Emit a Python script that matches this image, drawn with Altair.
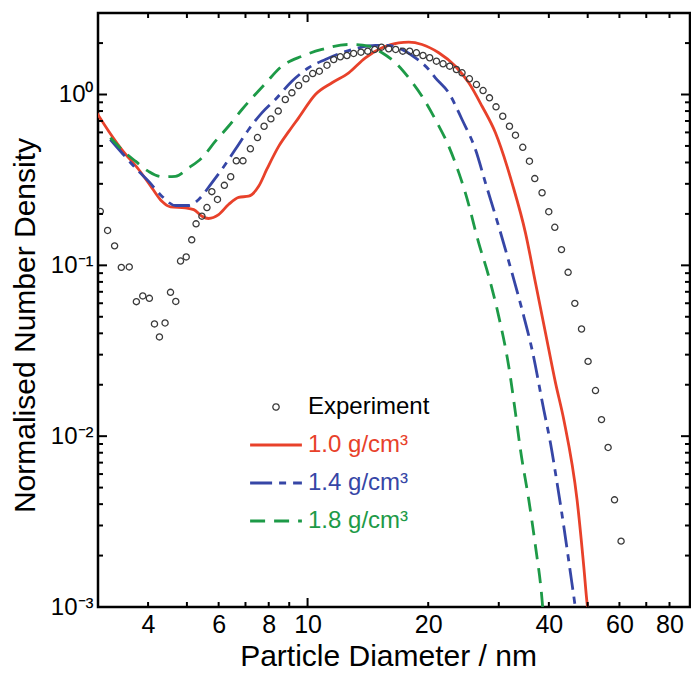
import json
import altair as alt
import pandas as pd

FONT = "Liberation Sans"

# ---------------- data ----------------
exp_d = [3.04, 3.17, 3.30, 3.43, 3.59, 3.74, 3.88, 4.03, 4.15, 4.27, 4.41, 4.55, 4.69, 4.82, 4.98,
         5.14, 5.27, 5.45, 5.61, 5.77, 5.96, 6.20, 6.43, 6.64, 6.90, 7.20, 7.50, 7.79, 8.10, 8.45,
         8.80, 9.14, 9.50, 9.91, 10.30, 10.70, 11.18, 11.62, 12.07, 12.54, 13.03, 13.59, 14.13, 14.71,
         15.29, 15.94, 16.59, 17.28, 17.98, 18.69, 19.41, 20.17, 20.97, 21.78, 22.63, 23.52, 24.29,
         25.34, 26.39, 27.41, 28.44, 29.53, 30.69, 31.90, 33.02, 34.43, 35.78, 36.89, 38.47, 39.98,
         41.39, 43.01, 44.68, 46.44, 48.26, 50.11, 52.29, 54.13, 56.22, 58.33, 60.57]
exp_v = [0.207, 0.160, 0.130, 0.0973, 0.0979, 0.0613, 0.0662, 0.0641, 0.0454, 0.0381, 0.0460, 0.0695,
         0.0615, 0.106, 0.112, 0.141, 0.175, 0.194, 0.218, 0.270, 0.243, 0.294, 0.330, 0.409, 0.409,
         0.481, 0.560, 0.652, 0.720, 0.80, 0.935, 1.023, 1.129, 1.236, 1.327, 1.369, 1.484, 1.603,
         1.663, 1.692, 1.739, 1.769, 1.793, 1.835, 1.893, 1.853, 1.835, 1.793, 1.793, 1.755, 1.692,
         1.641, 1.567, 1.513, 1.465, 1.401, 1.340, 1.236, 1.144, 1.055, 0.956, 0.847, 0.746, 0.652,
         0.578, 0.491, 0.407, 0.322, 0.266, 0.206, 0.167, 0.1236, 0.0910, 0.0599, 0.0424, 0.0274,
         0.0185, 0.0125, 0.00859, 0.00424, 0.00243]

red_d = [2.98, 3.19, 3.44, 3.79, 4.09, 4.33, 4.55, 4.95, 5.20, 5.45, 5.66, 6.00, 6.35, 6.73, 7.13,
         7.55, 7.91, 8.47, 8.99, 9.50, 10.46, 11.51, 12.67, 13.94, 15.34, 16.88, 17.88, 19.30, 21.25,
         23.38, 25.25, 27.25, 29.43, 31.46, 32.37, 34.97, 37.05, 39.24, 41.56, 43.59, 47.04, 48.89,
         49.83, 49.95]
red_v = [0.781, 0.610, 0.476, 0.364, 0.284, 0.237, 0.220, 0.217, 0.212, 0.194, 0.188, 0.198, 0.227,
         0.250, 0.254, 0.290, 0.364, 0.497, 0.610, 0.730, 1.0, 1.171, 1.340, 1.641, 1.877, 2.008,
         2.025, 1.963, 1.756, 1.465, 1.171, 0.854, 0.597, 0.380, 0.304, 0.155, 0.0788, 0.0402, 0.0205,
         0.01248, 0.00424, 0.001725, 0.00105, 0.001]

blue_d = [3.22, 3.44, 3.79, 4.01, 4.33, 4.68, 5.05, 5.35, 5.77, 6.11, 6.60, 7.13, 7.69, 8.31, 9.14,
          10.06, 11.08, 12.19, 13.42, 14.77, 15.94, 17.20, 18.58, 20.06, 20.84, 22.50, 24.29, 26.24,
          27.79, 29.99, 32.37, 34.29, 36.32, 38.85, 40.37, 41.94, 43.59, 45.29, 46.42, 46.55]
blue_v = [0.545, 0.456, 0.355, 0.311, 0.254, 0.224, 0.224, 0.243, 0.304, 0.364, 0.476, 0.624, 0.781,
          0.935, 1.196, 1.434, 1.603, 1.756, 1.877, 1.937, 1.937, 1.835, 1.641, 1.401, 1.253, 1.023,
          0.714, 0.476, 0.304, 0.169, 0.0902, 0.0550, 0.0321, 0.01428, 0.00911, 0.00531, 0.00296,
          0.00158, 0.00105, 0.001]

green_d = [3.22, 3.44, 3.72, 4.01, 4.33, 4.68, 5.05, 5.45, 5.89, 6.35, 6.86, 7.85, 8.63, 9.68, 10.86,
           12.67, 14.21, 15.34, 16.57, 17.88, 19.30, 20.84, 22.50, 23.84, 24.77, 26.74, 28.32, 29.99,
           31.77, 33.02, 33.98, 35.64, 37.05, 38.47, 38.6]
green_v = [0.558, 0.476, 0.407, 0.355, 0.330, 0.332, 0.372, 0.426, 0.533, 0.652, 0.817, 1.160, 1.465,
           1.676, 1.835, 1.963, 1.919, 1.756, 1.534, 1.253, 0.977, 0.714, 0.498, 0.349, 0.265, 0.135,
           0.0862, 0.0503, 0.0256, 0.01365, 0.00832, 0.00424, 0.00226, 0.0011, 0.001]

names = ["Experiment", "1.0 g/cm³", "1.4 g/cm³", "1.8 g/cm³"]
mark_colors = ["#3a3a3a", "#e8412a", "#3646a6", "#1d9a47"]
text_colors = ["#000000", "#e8412a", "#3646a6", "#1d9a47"]
dash_patterns = [[1, 0], [1, 0], [22, 7, 7, 7], [15, 9]]

x_labels = [4, 6, 8, 10, 20, 40, 60, 80]
x_minor = [4, 5, 6, 7, 8, 9, 20, 30, 40, 50, 60, 70, 80]
x_major = [10]
y_minor = [0.002, 0.003, 0.004, 0.005, 0.006, 0.007, 0.008, 0.009,
           0.02, 0.03, 0.04, 0.05, 0.06, 0.07, 0.08, 0.09,
           0.2, 0.3, 0.4, 0.5, 0.6, 0.7, 0.8, 0.9, 2]
y_major = [0.01, 0.1, 1]
y_decades = [0.001, 0.01, 0.1, 1]
y_decade_text = ["10⁻³", "10⁻²", "10⁻¹", "10⁰"]

# ---------------- tables ----------------
frames = [pd.DataFrame({"d": exp_d, "v": exp_v, "series": names[0]})]
for nm, dd, vv in [(names[1], red_d, red_v), (names[2], blue_d, blue_v), (names[3], green_d, green_v)]:
    frames.append(pd.DataFrame({"d": dd, "v": vv, "series": nm}))
df = pd.concat(frames, ignore_index=True)


def case(values, default):
    e = default
    for n, v in reversed(list(zip(names, values))):
        e = f"datum.value == '{n}' ? {v} : ({e})"
    return e


LINE_PATH = "'M-1.4,0H1.4'"
legend = alt.Legend(
    title=None, orient="none", legendX=166, legendY=382, padding=0,
    labelFont=FONT, labelFontSize=24, labelOffset=20,
    labelColor=alt.ExprRef(expr=case([f"'{c}'" for c in text_colors], "'black'")),
    symbolType=alt.ExprRef(expr=case(["'circle'", LINE_PATH, LINE_PATH, LINE_PATH], "'circle'")),
    symbolSize=alt.ExprRef(expr=case(["40", "1369", "1369", "1369"], "40")),
    symbolStrokeWidth=alt.ExprRef(expr=case(["1.3", "2.8", "2.8", "2.8"], "1")),
    symbolDash=alt.ExprRef(expr=case([json.dumps(p) for p in dash_patterns], "[1,0]")),
    symbolFillColor="transparent", rowPadding=14,
)

W, H = 592, 594

y_label_expr = "''"
for val, txt in zip(y_decades, y_decade_text):
    y_label_expr = f"datum.value == {val} ? '{txt}' : ({y_label_expr})"

x_axis_main = alt.Axis(
    orient="bottom", values=x_labels, ticks=False, tickSize=0, domain=False, grid=False,
    labelPadding=5, labelExpr="datum.value + ''", labelOverlap=False, labelFlush=False,
    labelFont=FONT, labelFontSize=25, labelColor="black",
    title="Particle Diameter / nm", titleFont=FONT, titleFontSize=30, titleFontWeight="normal",
    titleColor="black", titleX=290, titleY=58, titleBaseline="alphabetic")
y_axis_main = alt.Axis(
    orient="left", values=y_decades, ticks=False, tickSize=0, domain=False, grid=False,
    labelPadding=5, labelExpr=y_label_expr, labelOverlap=False, labelFlush=False,
    labelFont=FONT, labelFontSize=24, labelColor="black",
    title="Normalised Number Density", titleFont=FONT, titleFontSize=30, titleFontWeight="normal",
    titleColor="black", titleX=-64, titleY=312, titleBaseline="alphabetic")

x_scale = alt.Scale(type="log", domain=[3, 90], nice=False)
y_scale = alt.Scale(type="log", domain=[0.001, 3], nice=False)
color_enc = alt.Color("series:N", scale=alt.Scale(domain=names, range=mark_colors), legend=legend)

base = alt.Chart(df)
exp_base = base.transform_filter(alt.datum.series == names[0])

layers = []
for nm, dash in zip(names[1:], dash_patterns[1:]):
    mk = dict(strokeWidth=2.8, clip=True, interpolate="monotone")
    if dash != [1, 0]:
        mk["strokeDash"] = dash
    layers.append(
        base.transform_filter(alt.datum.series == nm).mark_line(**mk).encode(
            x=alt.X("d:Q", scale=x_scale, axis=None),
            y=alt.Y("v:Q", scale=y_scale, axis=None),
            color=color_enc,
        )
    )

points = exp_base.mark_point(
    shape="circle", filled=False, size=38, strokeWidth=1.3, opacity=1, clip=True
).encode(
    x=alt.X("d:Q", scale=x_scale, axis=x_axis_main),
    y=alt.Y("v:Q", scale=y_scale, axis=y_axis_main),
    color=color_enc,
)


# inward tick marks on all four sides of the frame, placed through the scales
def x_ticks_layer(vals, length, edge):
    y0 = H if edge == "bottom" else 0
    y1 = H - length if edge == "bottom" else length
    return alt.Chart(pd.DataFrame({"t": vals})).mark_rule(color="black", strokeWidth=2).encode(
        x=alt.X("t:Q", scale=x_scale, axis=None), y=alt.value(y0), y2=alt.value(y1))


def y_ticks_layer(vals, length, edge):
    x0 = 0 if edge == "left" else W
    x1 = length if edge == "left" else W - length
    return alt.Chart(pd.DataFrame({"t": vals})).mark_rule(color="black", strokeWidth=2).encode(
        y=alt.Y("t:Q", scale=y_scale, axis=None), x=alt.value(x0), x2=alt.value(x1))


tick_layers = []
for edge in ["bottom", "top"]:
    tick_layers.append(x_ticks_layer(x_minor, 5, edge))
    tick_layers.append(x_ticks_layer(x_major, 9, edge))
for edge in ["left", "right"]:
    tick_layers.append(y_ticks_layer(y_minor, 5, edge))
    tick_layers.append(y_ticks_layer(y_major, 9, edge))

chart = (
    alt.layer(*layers, points, *tick_layers)
    .resolve_axis(x="independent", y="independent")
    .properties(
        width=W, height=H,
        autosize=alt.AutoSizeParams(type="none"),
        padding={"left": 98, "top": 13, "right": 1, "bottom": 66},
        background="white",
    )
    .configure_view(stroke="black", strokeWidth=2.5)
)

chart.save("out.html", embed_options={"renderer": "svg", "actions": False})
